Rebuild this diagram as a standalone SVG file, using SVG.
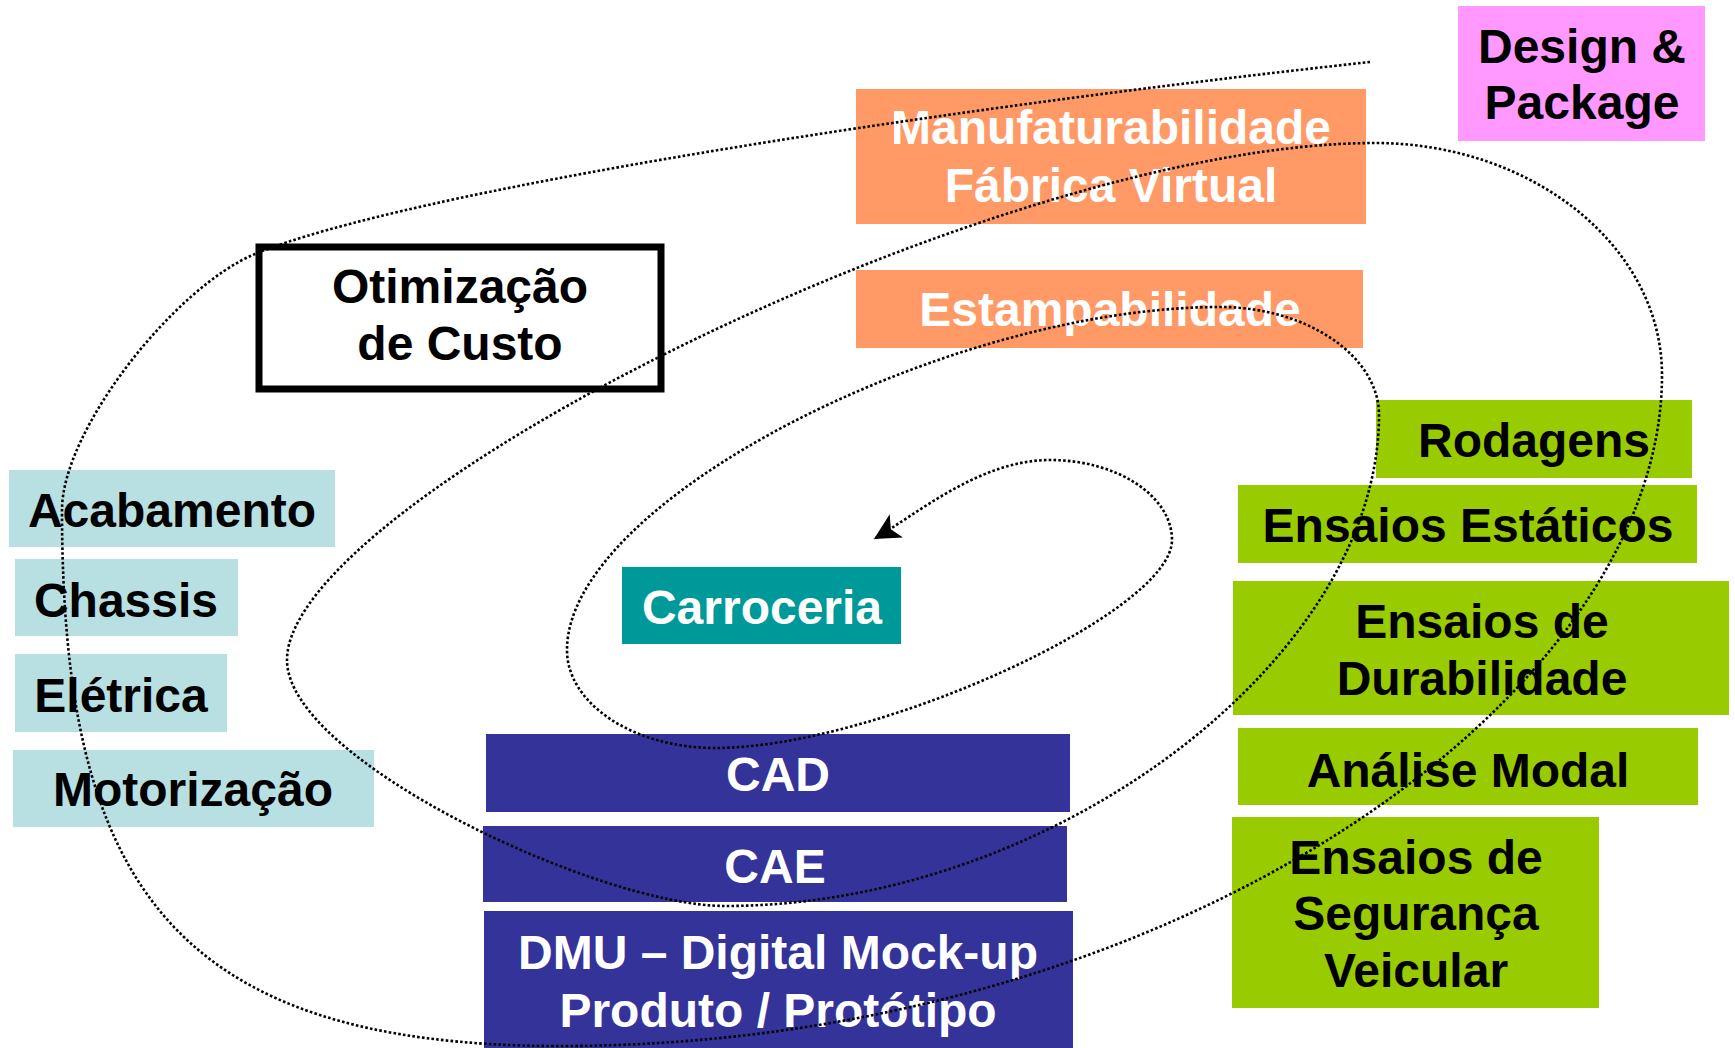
<svg xmlns="http://www.w3.org/2000/svg" width="1735" height="1048" viewBox="0 0 1735 1048">
<defs>
<style>
.t{font-family:"Liberation Sans",Arial,sans-serif;font-weight:bold;font-size:48px;text-anchor:middle}
.w{fill:#FFFFFF}
.k{fill:#000000}
.pink{fill:#FF99FF}
.orange{fill:#FF9966}
.cyan{fill:#B8E0E3}
.teal{fill:#009999}
.blue{fill:#333399}
.green{fill:#99CC00}
.spiral{fill:none;stroke:#000;stroke-width:2.6;stroke-dasharray:2.6 2.2}
</style>
<marker id="arr" markerUnits="userSpaceOnUse" markerWidth="28" markerHeight="28" refX="26" refY="13.5" orient="auto">
<path d="M0,0 L26,13.5 L0,27 L6.5,13.5 z" fill="#000"/>
</marker>
</defs>
<rect width="1735" height="1048" fill="#FFFFFF"/>

<g id="design-package">
<rect class="pink" x="1458" y="6" width="247" height="135"/>
<text class="t k" x="1582" y="63">Design &amp;</text>
<text class="t k" x="1582" y="119">Package</text>
</g>

<g id="manufaturabilidade">
<rect class="orange" x="856" y="89" width="510" height="135"/>
<text class="t w" x="1111" y="144">Manufaturabilidade</text>
<text class="t w" x="1111" y="202">Fábrica Virtual</text>
</g>

<g id="estampabilidade">
<rect class="orange" x="856" y="270" width="507" height="78"/>
<text class="t w" x="1110" y="326">Estampabilidade</text>
</g>

<g id="otimizacao">
<rect x="259" y="247" width="402" height="142" fill="#FFFFFF" stroke="#000" stroke-width="7"/>
<text class="t k" x="460" y="303">Otimização</text>
<text class="t k" x="460" y="360">de Custo</text>
</g>

<g id="acabamento">
<rect class="cyan" x="9" y="470" width="326" height="77"/>
<text class="t k" x="172" y="527">Acabamento</text>
</g>

<g id="chassis">
<rect class="cyan" x="15" y="559" width="223" height="77"/>
<text class="t k" x="126" y="617">Chassis</text>
</g>

<g id="eletrica">
<rect class="cyan" x="15" y="654" width="212" height="78"/>
<text class="t k" x="121" y="712">Elétrica</text>
</g>

<g id="motorizacao">
<rect class="cyan" x="13" y="750" width="361" height="77"/>
<text class="t k" x="193" y="806">Motorização</text>
</g>

<g id="carroceria">
<rect class="teal" x="622" y="567" width="279" height="77"/>
<text class="t w" x="762" y="624">Carroceria</text>
</g>

<g id="cad">
<rect class="blue" x="486" y="734" width="584" height="78"/>
<text class="t w" x="778" y="791">CAD</text>
</g>

<g id="cae">
<rect class="blue" x="483" y="826" width="584" height="76"/>
<text class="t w" x="775" y="883">CAE</text>
</g>

<g id="dmu">
<rect class="blue" x="484" y="911" width="589" height="137"/>
<text class="t w" x="778" y="969">DMU – Digital Mock-up</text>
<text class="t w" x="778" y="1027">Produto / Protótipo</text>
</g>

<g id="rodagens">
<rect class="green" x="1376" y="400" width="316" height="78"/>
<text class="t k" x="1534" y="457">Rodagens</text>
</g>

<g id="ensaios-estaticos">
<rect class="green" x="1238" y="485" width="459" height="78"/>
<text class="t k" x="1468" y="542">Ensaios Estáticos</text>
</g>

<g id="ensaios-durabilidade">
<rect class="green" x="1233" y="581" width="496" height="134"/>
<text class="t k" x="1482" y="638">Ensaios de</text>
<text class="t k" x="1482" y="695">Durabilidade</text>
</g>

<g id="analise-modal">
<rect class="green" x="1238" y="728" width="460" height="77"/>
<text class="t k" x="1468" y="787">Análise Modal</text>
</g>

<g id="ensaios-seguranca">
<rect class="green" x="1232" y="817" width="367" height="191"/>
<text class="t k" x="1416" y="874">Ensaios de</text>
<text class="t k" x="1416" y="930">Segurança</text>
<text class="t k" x="1416" y="987">Veicular</text>
</g>

<g id="connectors">
<path class="spiral" marker-end="url(#arr)" d="M1370,62 C920,111 405,192 255,254 C175,287 62,430 62,510 C62,880 170,1046 560,1046 C1170,1046 1662,700 1662,375 C1662,247 1533,143 1375,143 C1000,143 287,500 287,660 C287,760 600,906 725,906 C1052,906 1379,660 1379,415 C1379,356 1307,307 1220,307 C950,307 567,500 567,650 C567,704 634,748 715,748 C875,748 1172,613 1172,540 C1172,496 1117,460 1050,460 C980,460 917,514 874,539"/>
</g>
</svg>
